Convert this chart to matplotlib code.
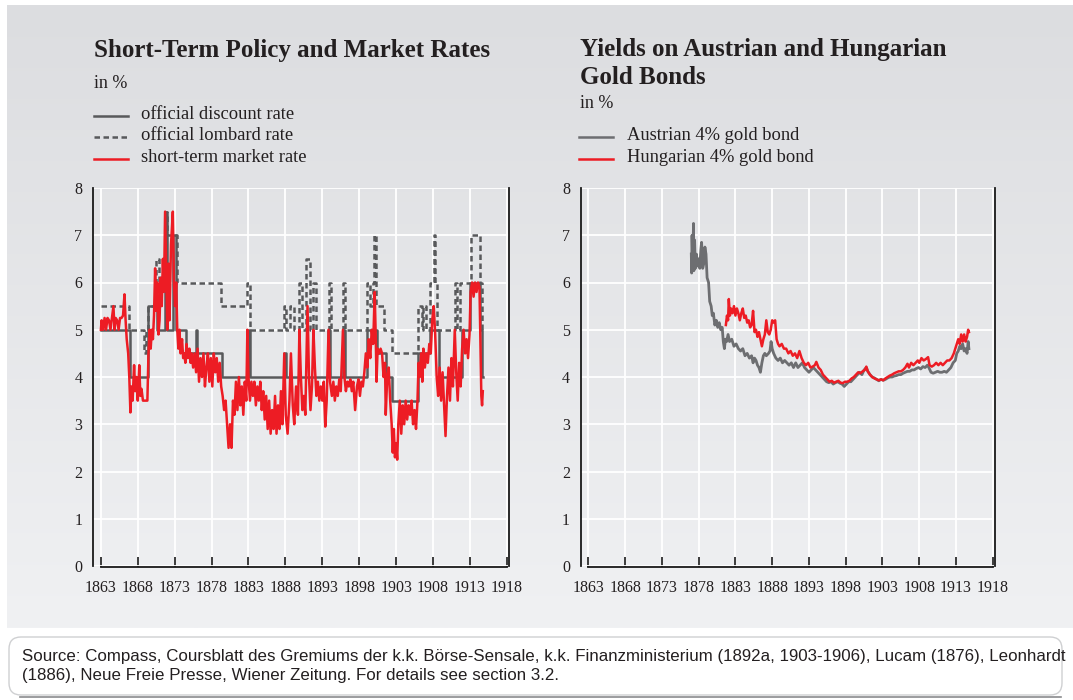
import numpy as np
import matplotlib
matplotlib.use("Agg")
import matplotlib.pyplot as plt
from matplotlib.patches import FancyBboxPatch

plt.rcParams['font.family'] = ['Liberation Serif', 'DejaVu Serif']

# ---- data: short-term policy and market rates (in %) ----
disc_years = [1863.0, 1866.9, 1869.4, 1870.6, 1871.7, 1871.95, 1872.8, 1873.2, 1874.5,
              1875.9, 1876.05, 1879.4, 1882.9, 1883.15, 1887.8, 1888.1, 1893.8, 1894.05,
              1895.8, 1896.05, 1899.0, 1900.4, 1901.6, 1902.4, 1906.0, 1907.6, 1908.8,
              1911.9, 1913.0, 1914.4, 1914.6, 1914.75]
disc_rate = [5.0, 4.0, 5.5, 5.0, 7.5, 5.0, 7.0, 5.0, 4.5,
             5.0, 4.5, 4.0, 5.0, 4.0, 4.5, 4.0, 5.0, 4.0,
             5.0, 4.0, 5.0, 4.5, 4.0, 3.5, 4.5, 5.0, 4.0,
             5.0, 6.0, 5.0, 4.0, 4.0]

lomb_years = [1863.0, 1866.8, 1868.8, 1869.1, 1869.4, 1870.5, 1870.9, 1871.7, 1872.0, 1873.3,
              1879.3, 1882.8, 1883.2, 1887.75, 1888.1, 1888.65, 1889.2, 1889.8, 1890.25,
              1890.85, 1891.3, 1891.8, 1892.2, 1893.85, 1894.2, 1895.75, 1896.1, 1899.0,
              1899.5, 1899.9, 1900.05, 1900.3, 1901.3, 1902.4, 1906.0, 1906.5, 1906.7,
              1907.0, 1907.6, 1908.1, 1908.3, 1908.5, 1911.0, 1911.3, 1911.6, 1913.2,
              1914.4, 1914.6, 1914.75]
lomb_rate = [5.5, 5.0, 4.5, 5.0, 5.5, 6.5, 6.0, 7.5, 7.0, 6.0,
             5.5, 6.0, 5.0, 5.5, 5.0, 5.5, 5.0, 6.0, 5.0,
             6.5, 5.0, 6.0, 5.0, 6.0, 5.0, 6.0, 5.0, 6.0,
             5.5, 6.0, 7.0, 5.5, 5.0, 4.5, 5.5, 5.0, 5.5,
             5.0, 6.0, 7.0, 6.0, 5.0, 6.0, 5.0, 6.0, 7.0,
             6.0, 5.0, 5.0]

mkt_years = [1863.0, 1863.1, 1863.3, 1863.5, 1863.7, 1863.9, 1864.1, 1864.3, 1864.5, 1864.7,
             1864.85, 1865.0, 1865.2, 1865.4, 1865.6, 1865.8, 1866.0, 1866.2, 1866.35, 1866.5,
             1866.7, 1866.85, 1867.0, 1867.15, 1867.3, 1867.5, 1867.65, 1867.8, 1868.0, 1868.2,
             1868.35, 1868.5, 1868.7, 1869.0, 1869.3, 1869.45, 1869.6, 1869.75, 1869.9, 1870.05,
             1870.2, 1870.35, 1870.5, 1870.65, 1870.8, 1870.95, 1871.1, 1871.25, 1871.4, 1871.55,
             1871.7, 1871.85, 1872.0, 1872.15, 1872.3, 1872.5, 1872.75, 1872.9, 1873.05, 1873.2,
             1873.35, 1873.5, 1873.65, 1873.8, 1874.0, 1874.15, 1874.3, 1874.45, 1874.6, 1874.8,
             1875.0, 1875.15, 1875.3, 1875.5, 1875.7, 1875.9, 1876.1, 1876.3, 1876.5, 1876.7,
             1876.9, 1877.1, 1877.3, 1877.5, 1877.7, 1877.9, 1878.1, 1878.3, 1878.5, 1878.7,
             1878.9, 1879.1, 1879.3, 1879.5, 1879.7, 1879.9, 1880.1, 1880.3, 1880.5, 1880.7,
             1880.9, 1881.1, 1881.3, 1881.5, 1881.7, 1881.9, 1882.1, 1882.3, 1882.5, 1882.7,
             1882.85, 1883.0, 1883.2, 1883.4, 1883.6, 1883.8, 1884.0, 1884.2, 1884.4, 1884.6,
             1884.8, 1885.0, 1885.2, 1885.4, 1885.6, 1885.8, 1886.0, 1886.2, 1886.4, 1886.6,
             1886.8, 1887.0, 1887.2, 1887.4, 1887.6, 1887.85, 1888.05, 1888.3, 1888.55, 1888.75,
             1889.0, 1889.2, 1889.45, 1889.7, 1889.9, 1890.1, 1890.3, 1890.5, 1890.7, 1891.0,
             1891.2, 1891.4, 1891.6, 1891.8, 1892.0, 1892.2, 1892.4, 1892.6, 1892.8, 1893.0,
             1893.2, 1893.4, 1893.6, 1893.85, 1894.05, 1894.3, 1894.5, 1894.7, 1894.9, 1895.1,
             1895.3, 1895.5, 1895.8, 1896.0, 1896.2, 1896.4, 1896.6, 1896.8, 1897.0, 1897.2,
             1897.45, 1897.7, 1897.9, 1898.1, 1898.3, 1898.5, 1898.7, 1898.9, 1899.1, 1899.3,
             1899.5, 1899.7, 1899.9, 1900.1, 1900.25, 1900.35, 1900.5, 1900.7, 1900.9, 1901.1,
             1901.3, 1901.5, 1901.6, 1901.8, 1902.0, 1902.2, 1902.4, 1902.55, 1902.7, 1902.85,
             1903.0, 1903.15, 1903.3, 1903.5, 1903.7, 1903.9, 1904.1, 1904.3, 1904.5, 1904.7,
             1904.9, 1905.1, 1905.3, 1905.5, 1905.7, 1905.9, 1906.05, 1906.2, 1906.4, 1906.55,
             1906.7, 1906.9, 1907.1, 1907.3, 1907.5, 1907.7, 1907.9, 1908.1, 1908.3, 1908.5,
             1908.7, 1908.9, 1909.1, 1909.3, 1909.5, 1909.7, 1909.9, 1910.1, 1910.3, 1910.5,
             1910.7, 1910.95, 1911.15, 1911.35, 1911.55, 1911.75, 1911.95, 1912.15, 1912.35, 1912.55,
             1912.75, 1912.95, 1913.1, 1913.3, 1913.5, 1913.7, 1913.9, 1914.1, 1914.3, 1914.45,
             1914.55, 1914.65, 1914.75]
mkt_rate = [5.0, 5.2, 5.0, 5.25, 5.0, 5.25, 5.2, 5.0, 5.25, 5.5,
            5.0, 5.25, 5.2, 5.0, 5.25, 5.25, 5.3, 5.75, 5.2, 4.8,
            4.5, 4.0, 3.25, 3.8, 3.5, 4.25, 3.7, 4.0, 3.5, 4.25,
            3.6, 3.75, 3.5, 3.5, 3.5, 4.5, 5.0, 4.6, 5.0, 4.8,
            5.3, 6.3, 5.4, 6.0, 4.9, 5.2, 6.1, 5.5, 6.5, 5.8,
            7.5, 6.2, 5.0, 6.4, 5.2, 6.8, 7.5, 6.0, 5.5, 6.0,
            5.0, 4.6, 5.0, 4.5, 4.8, 4.4, 4.5, 4.3, 4.7, 4.4,
            4.6, 4.3, 4.5, 4.2, 4.5, 4.1, 4.6, 3.9, 4.4, 4.0,
            4.5, 3.8, 4.2, 4.5, 3.9, 4.4, 3.8, 4.5, 4.1, 4.4,
            3.9, 4.3, 3.8, 3.6, 3.3, 3.5, 3.0, 2.5, 3.0, 2.5,
            3.5, 3.2, 3.9, 3.3, 4.0, 3.4, 3.8, 3.2, 3.9, 3.5,
            5.0, 4.0, 3.5, 3.9, 3.6, 3.9, 3.4, 3.8, 3.5, 3.9,
            3.3, 3.7, 3.1, 3.6, 2.9, 3.5, 2.8, 3.3, 2.9, 3.6,
            2.8, 3.4, 2.9, 3.7, 3.0, 4.5, 3.2, 2.8, 3.5, 4.5,
            3.4, 3.0, 3.8, 3.2, 5.0, 4.0, 3.3, 3.6, 3.2, 5.5,
            4.0, 3.3, 3.8, 5.0, 4.2, 3.6, 3.9, 3.5, 3.8, 3.5,
            3.9, 2.95, 3.5, 5.0, 3.9, 3.6, 3.9, 3.5, 3.8, 3.6,
            3.95, 3.7, 5.0, 4.0, 3.7, 3.9, 3.8, 3.95, 3.7, 3.9,
            3.3, 3.8, 3.95, 3.6, 3.9, 3.8, 4.1, 4.5, 4.2, 4.8,
            4.4, 5.0, 4.7, 5.8, 4.8, 3.9, 4.6, 4.5, 4.6, 4.5,
            4.0, 4.3, 3.2, 4.0, 4.2, 3.5, 3.0, 2.4, 2.9, 2.3,
            2.6, 2.25, 3.0, 3.5, 2.8, 3.4, 3.0, 3.5, 3.1, 3.4,
            3.2, 3.5, 3.0, 3.3, 2.9, 3.5, 4.3, 4.0, 4.5, 3.9,
            4.6, 4.2, 4.5, 4.3, 4.7, 4.5, 5.2, 5.5, 4.9, 4.0,
            3.6, 4.2, 3.5, 4.1, 3.4, 2.75, 3.6, 4.2, 3.5, 4.4,
            3.8, 5.0, 4.1, 3.5, 4.3, 3.8, 4.6, 5.0, 4.5, 4.8,
            4.4, 4.9, 5.8, 6.0, 5.7, 6.0, 5.8, 6.0, 5.9, 4.5,
            3.6, 3.4, 3.7]

# ---- data: yields on gold bonds (in %) ----
aus_years = [1877.0, 1877.05, 1877.1, 1877.2, 1877.3, 1877.35, 1877.45, 1877.55, 1877.7, 1877.85,
             1878.0, 1878.15, 1878.3, 1878.4, 1878.55, 1878.7, 1878.85, 1879.0, 1879.15, 1879.35,
             1879.5, 1879.7, 1879.85, 1880.0, 1880.2, 1880.4, 1880.6, 1880.8, 1881.0, 1881.2,
             1881.35, 1881.5, 1881.65, 1881.8, 1882.0, 1882.2, 1882.5, 1882.8, 1883.1, 1883.4,
             1883.7, 1884.0, 1884.3, 1884.6, 1884.9, 1885.2, 1885.4, 1885.6, 1885.8, 1886.0,
             1886.2, 1886.4, 1886.6, 1886.8, 1887.0, 1887.2, 1887.5, 1887.7, 1887.85, 1888.0,
             1888.2, 1888.5, 1888.8, 1889.1, 1889.4, 1889.7, 1890.0, 1890.3, 1890.6, 1890.9,
             1891.2, 1891.5, 1891.8, 1892.1, 1892.4, 1892.7, 1893.0, 1893.3, 1893.6, 1893.9,
             1894.2, 1894.5, 1894.8, 1895.1, 1895.4, 1895.7, 1896.0, 1896.3, 1896.6, 1896.9,
             1897.2, 1897.5, 1897.8, 1898.1, 1898.4, 1898.7, 1899.0, 1899.3, 1899.6, 1899.9,
             1900.2, 1900.5, 1900.8, 1901.0, 1901.3, 1901.6, 1901.9, 1902.2, 1902.5, 1902.8,
             1903.1, 1903.4, 1903.7, 1904.0, 1904.3, 1904.6, 1904.9, 1905.2, 1905.5, 1905.8,
             1906.1, 1906.4, 1906.7, 1907.0, 1907.3, 1907.6, 1907.9, 1908.2, 1908.5, 1908.8,
             1909.1, 1909.3, 1909.6, 1909.9, 1910.2, 1910.5, 1910.8, 1911.1, 1911.4, 1911.7,
             1912.0, 1912.3, 1912.6, 1912.9, 1913.1, 1913.3, 1913.5, 1913.7, 1913.9, 1914.1,
             1914.3, 1914.5, 1914.65, 1914.75]
aus_yield = [6.6, 6.2, 7.0, 6.4, 7.25, 6.25, 6.9, 6.3, 6.6, 6.35,
             6.5, 6.3, 6.7, 6.85, 6.3, 6.4, 6.75, 6.6, 6.1, 6.0,
             5.6, 5.5, 5.3, 5.35, 5.1, 5.2, 5.05, 5.15, 5.0, 5.05,
             4.75, 4.6, 4.8, 4.75, 4.9, 4.75, 4.8, 4.65, 4.7, 4.6,
             4.55, 4.6, 4.45, 4.5, 4.4, 4.45, 4.3, 4.4, 4.35, 4.25,
             4.2, 4.1, 4.3, 4.45, 4.5, 4.45, 4.5, 4.55, 4.75, 4.6,
             4.5, 4.4, 4.35, 4.4, 4.3, 4.35, 4.3, 4.25, 4.3, 4.2,
             4.3, 4.2, 4.25, 4.3, 4.2, 4.15, 4.1, 4.15, 4.2, 4.15,
             4.1, 4.05, 4.0, 3.95, 3.9, 3.88, 3.9, 3.85, 3.88, 3.9,
             3.87, 3.85, 3.8, 3.85, 3.9, 3.9, 3.95, 4.0, 4.05, 4.1,
             4.05, 4.15, 4.2, 4.12, 4.05, 4.0, 3.98, 3.95, 3.92, 3.95,
             3.93, 3.95, 3.98, 4.0, 4.0, 4.02, 4.03, 4.05, 4.05, 4.08,
             4.1, 4.12, 4.12, 4.15, 4.15, 4.18, 4.2, 4.17, 4.22, 4.2,
             4.25, 4.2, 4.1, 4.08, 4.1, 4.12, 4.1, 4.1, 4.12, 4.1,
             4.15, 4.2, 4.3, 4.35, 4.5, 4.55, 4.65, 4.6, 4.7, 4.55,
             4.6, 4.5, 4.75, 4.6]

hun_years = [1881.7, 1881.85, 1882.0, 1882.1, 1882.25, 1882.4, 1882.6, 1882.8, 1883.0, 1883.2,
             1883.4, 1883.6, 1883.8, 1884.0, 1884.2, 1884.4, 1884.6, 1884.8, 1885.0, 1885.2,
             1885.4, 1885.6, 1885.8, 1886.0, 1886.2, 1886.4, 1886.6, 1886.8, 1887.0, 1887.2,
             1887.4, 1887.6, 1887.8, 1888.0, 1888.2, 1888.4, 1888.6, 1888.8, 1889.0, 1889.3,
             1889.6, 1889.9, 1890.2, 1890.5, 1890.8, 1891.1, 1891.4, 1891.7, 1892.0, 1892.3,
             1892.6, 1892.9, 1893.2, 1893.5, 1893.8, 1894.0, 1894.3, 1894.6, 1894.9, 1895.2,
             1895.5, 1895.8, 1896.1, 1896.4, 1896.7, 1897.0, 1897.3, 1897.6, 1897.9, 1898.2,
             1898.5, 1898.8, 1899.1, 1899.4, 1899.7, 1900.0, 1900.3, 1900.6, 1900.8, 1901.0,
             1901.3, 1901.6, 1901.9, 1902.2, 1902.5, 1902.8, 1903.1, 1903.4, 1903.7, 1904.0,
             1904.3, 1904.6, 1904.9, 1905.2, 1905.5, 1905.8, 1906.1, 1906.4, 1906.6, 1906.9,
             1907.2, 1907.5, 1907.8, 1908.0, 1908.3, 1908.6, 1908.9, 1909.2, 1909.4, 1909.7,
             1910.0, 1910.3, 1910.6, 1910.9, 1911.2, 1911.5, 1911.8, 1912.1, 1912.4, 1912.7,
             1912.9, 1913.1, 1913.3, 1913.5, 1913.7, 1913.9, 1914.1, 1914.3, 1914.5, 1914.65,
             1914.75]
hun_yield = [5.1, 5.3, 5.2, 5.65, 5.3, 5.45, 5.35, 5.5, 5.3, 5.45,
             5.35, 5.2, 5.35, 5.45, 5.25, 5.3, 5.15, 5.2, 5.05, 5.1,
             5.4, 4.95, 5.0, 4.85, 4.95, 4.8, 4.65, 4.8, 4.9, 5.2,
             4.95, 4.9, 5.0, 5.2, 5.15, 5.2, 4.8, 4.7, 4.65, 4.7,
             4.6, 4.6, 4.5, 4.55, 4.45, 4.5, 4.4, 4.55, 4.4, 4.3,
             4.25, 4.3, 4.2, 4.22, 4.25, 4.32, 4.2, 4.15, 4.05, 4.0,
             3.95, 3.9, 3.92, 3.88, 3.9, 3.92, 3.88, 3.87, 3.9, 3.9,
             3.92, 3.97, 4.0, 4.05, 4.1, 4.08, 4.12, 4.15, 4.22, 4.12,
             4.05, 4.0, 3.97, 3.95, 3.93, 3.95, 3.93, 3.97, 4.0, 4.03,
             4.05, 4.08, 4.1, 4.12, 4.12, 4.15, 4.2, 4.28, 4.2, 4.3,
             4.25, 4.3, 4.35, 4.3, 4.4, 4.35, 4.38, 4.42, 4.25, 4.22,
             4.25, 4.3, 4.25, 4.3, 4.25, 4.3, 4.35, 4.35, 4.4, 4.5,
             4.6, 4.7, 4.8, 4.7, 4.9, 4.75, 4.9, 4.75, 4.85, 5.0,
             4.95]

year_ticks = [1863, 1868, 1873, 1878, 1883, 1888, 1893, 1898, 1903, 1908, 1913, 1918]
value_ticks = [0, 1, 2, 3, 4, 5, 6, 7, 8]

RED = '#ed1c24'
DARK = '#58595b'
GREY = '#6d6e71'
TXT = '#231f20'

W, H = 1073, 700
fig = plt.figure(figsize=(W / 100, H / 100), dpi=100, facecolor='white')

def px(x, y):
    return x / W, 1 - y / H

# background panel with soft vertical gradient and footer box
bg = fig.add_axes([0, 0, 1, 1], zorder=-10)
bg.set_xlim(0, W)
bg.set_ylim(H, 0)
bg.axis('off')
grad = np.linspace(0, 1, 256).reshape(-1, 1)
bg.imshow(grad, extent=[7, W, 628, 5], aspect='auto',
          cmap=matplotlib.colors.LinearSegmentedColormap.from_list('g', ['#dcdde0', '#f0f1f3']))
bg.add_patch(FancyBboxPatch((9, 637), W - 20, 58, boxstyle='round,pad=0,rounding_size=12',
                            facecolor='white', edgecolor='#cfd0d2', linewidth=1.0))
bg.plot([20, W - 12], [697, 697], color='#8a8b8d', lw=1.2)


def style_axes(ax):
    ax.set_facecolor('none')
    ax.set_xlim(1862.0, 1918.3)
    ax.set_ylim(0, 8)
    ax.set_xticks(year_ticks)
    ax.set_yticks(value_ticks)
    ax.grid(True, color='white', lw=1.3)
    ax.set_axisbelow(True)
    ax.spines['top'].set_visible(False)
    for s in ['left', 'right', 'bottom']:
        ax.spines[s].set_color('#1a1a1a')
        ax.spines[s].set_linewidth(1.3)
    ax.spines['bottom'].set_bounds(1863, 1918)
    ax.spines['bottom'].set_position(('outward', 1))
    ax.spines['right'].set_position(('data', 1918.3))
    ax.tick_params(axis='x', direction='in', length=7, width=1.2, color='#1a1a1a',
                   labelsize=11.5, labelcolor=TXT, pad=9)
    ax.tick_params(axis='y', length=0, labelsize=11.5, labelcolor=TXT, pad=8)


# left panel
ax1 = fig.add_axes([93.5 / W, 1 - 566 / H, (509 - 93.5) / W, 378 / H])
style_axes(ax1)
ax1.step(lomb_years, lomb_rate, where='post', color=DARK, lw=1.8, ls=(0, (2.2, 1.4)), zorder=3)
ax1.step(disc_years, disc_rate, where='post', color=DARK, lw=1.8, zorder=3)
ax1.plot(mkt_years, mkt_rate, color=RED, lw=1.8, zorder=4)

# right panel
ax2 = fig.add_axes([581 / W, 1 - 566 / H, (995 - 581) / W, 378 / H])
style_axes(ax2)
ax2.plot(aus_years, aus_yield, color=GREY, lw=2.0, zorder=3)
ax2.plot(hun_years, hun_yield, color=RED, lw=1.8, zorder=4)

# titles, units and legends
fig.text(*px(94, 57), 'Short-Term Policy and Market Rates', fontsize=18, fontweight='bold', color=TXT)
fig.text(*px(94, 88), 'in %', fontsize=13, color=TXT)
leg1 = [('official discount rate', '-', 115.5, DARK),
        ('official lombard rate', (0, (2.2, 1.4)), 136.5, DARK),
        ('short-term market rate', '-', 158.5, RED)]
for label, ls, yy, col in leg1:
    bg.plot([94, 128], [yy, yy], color=col, ls=ls, lw=1.8)
    bg.text(141, yy - 1, label, fontsize=13.3, color=TXT, va='center')

fig.text(*px(580, 56), 'Yields on Austrian and Hungarian', fontsize=18, fontweight='bold', color=TXT)
fig.text(*px(580, 84), 'Gold Bonds', fontsize=18, fontweight='bold', color=TXT)
fig.text(*px(580, 108), 'in %', fontsize=13, color=TXT)
leg2 = [('Austrian 4% gold bond', 136.5, GREY), ('Hungarian 4% gold bond', 158.5, RED)]
for label, yy, col in leg2:
    bg.plot([579, 613], [yy, yy], color=col, lw=1.8)
    bg.text(627, yy - 1, label, fontsize=13.3, color=TXT, va='center')

# source note
src = ('Source: Compass, Coursblatt des Gremiums der k.k. Börse-Sensale, k.k. Finanzministerium '
       '(1892a, 1903-1906), Lucam (1876), Leonhardt\n(1886), Neue Freie Presse, Wiener Zeitung. '
       'For details see section 3.2.')
bg.text(22, 649, src, fontsize=12.2, family=['Liberation Sans', 'DejaVu Sans'], color=TXT,
        va='top', linespacing=1.3)

fig.savefig('out.png', dpi=100, facecolor='white')
